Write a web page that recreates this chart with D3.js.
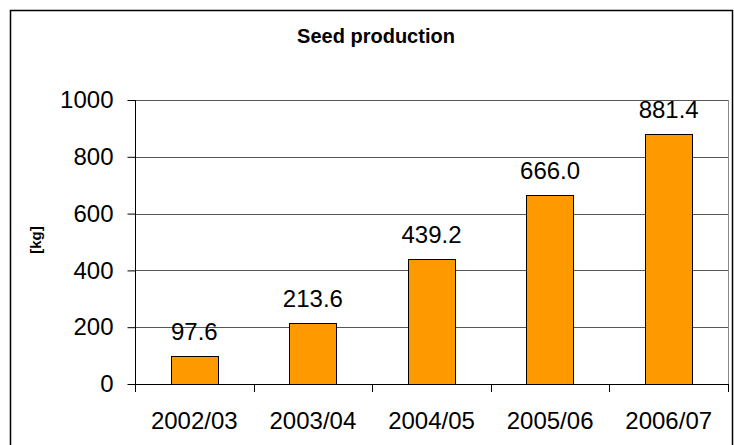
<!DOCTYPE html>
<html>
<head>
<meta charset="utf-8">
<script src="https://cdn.jsdelivr.net/npm/d3@7"></script>
<style>
    body { margin: 0; background: #fff; }
    svg { display: block; font-family: Arial, 'Liberation Sans', sans-serif; }
</style>
</head>
<body>
<div id="chart"></div>
<script>
'use strict';

// data
let seasons = ['2002/03', '2003/04', '2004/05', '2005/06', '2006/07'];
let seedKg = [97.6, 213.6, 439.2, 666.0, 881.4];
let yTicks = [0, 200, 400, 600, 800, 1000];

let width = 734;
let height = 445;
let plot = {left: 135, right: 728, top: 100, bottom: 384};

let svg = d3.select('#chart').append('svg')
    .attr('width', width)
    .attr('height', height);

// outer frame of the chart object
svg.append('rect')
    .attr('x', 10.5)
    .attr('y', 10.5)
    .attr('width', 722)
    .attr('height', 500)
    .attr('fill', 'none')
    .attr('stroke', '#000')
    .attr('stroke-width', 1.5);

svg.append('text')
    .attr('x', 376)
    .attr('y', 43)
    .attr('text-anchor', 'middle')
    .attr('font-size', '20px')
    .attr('font-weight', 'bold')
    .text('Seed production');

let x = d3.scaleBand()
    .domain(seasons)
    .range([plot.left, plot.right])
    .paddingInner(0.6)
    .paddingOuter(0.3);

let y = d3.scaleLinear()
    .domain([0, 1000])
    .range([plot.bottom, plot.top]);

// gridlines
svg.append('g')
    .selectAll('line')
    .data(yTicks.filter(function (d) { return d > 0; }))
    .join('line')
    .attr('x1', plot.left)
    .attr('x2', plot.right)
    .attr('y1', function (d) { return Math.round(y(d)) + 0.5; })
    .attr('y2', function (d) { return Math.round(y(d)) + 0.5; })
    .attr('stroke', '#555')
    .attr('stroke-width', 1.2);

// right edge of plot area
svg.append('line')
    .attr('x1', plot.right + 0.5)
    .attr('x2', plot.right + 0.5)
    .attr('y1', plot.top)
    .attr('y2', plot.bottom)
    .attr('stroke', '#888')
    .attr('stroke-width', 1);

// bars
svg.append('g')
    .selectAll('rect')
    .data(seedKg)
    .join('rect')
    .attr('x', function (d, i) { return Math.round(x(seasons[i])) + 0.5; })
    .attr('y', function (d) { return Math.round(y(d)) + 0.5; })
    .attr('width', Math.round(x.bandwidth()))
    .attr('height', function (d) { return Math.round(y(0)) - Math.round(y(d)); })
    .attr('fill', '#FF9900')
    .attr('stroke', '#000')
    .attr('stroke-width', 1);

// data labels
svg.append('g')
    .selectAll('text')
    .data(seedKg)
    .join('text')
    .attr('x', function (d, i) { return x(seasons[i]) + x.bandwidth() / 2; })
    .attr('y', function (d) { return y(d) - 16; })
    .attr('text-anchor', 'middle')
    .attr('font-size', '24px')
    .attr('fill', '#000')
    .text(function (d) { return d.toFixed(1); });

// y axis
let yAxis = svg.append('g')
    .attr('transform', 'translate(' + (plot.left + 0.5) + ',0)')
    .call(d3.axisLeft(y).tickValues(yTicks).tickFormat(d3.format('d')).tickSize(8).tickPadding(14));
yAxis.select('.domain')
    .attr('d', 'M0,' + plot.top + 'V' + (plot.bottom + 8));
yAxis.selectAll('.tick line').attr('stroke', '#000');
yAxis.selectAll('text')
    .attr('font-size', '24px')
    .attr('font-family', null)
    .attr('fill', '#000');

// x axis line and category boundary ticks
let step = x.step();
let x0 = plot.left;
svg.append('line')
    .attr('x1', plot.left)
    .attr('x2', plot.right + 1)
    .attr('y1', plot.bottom + 0.5)
    .attr('y2', plot.bottom + 0.5)
    .attr('stroke', '#000');

svg.append('g')
    .selectAll('line')
    .data(d3.range(seasons.length + 1))
    .join('line')
    .attr('x1', function (i) { return Math.round(x0 + i * step) + 0.5; })
    .attr('x2', function (i) { return Math.round(x0 + i * step) + 0.5; })
    .attr('y1', plot.bottom)
    .attr('y2', plot.bottom + 8)
    .attr('stroke', '#000');

let xAxis = svg.append('g')
    .attr('transform', 'translate(0,' + plot.bottom + ')')
    .call(d3.axisBottom(x).tickSize(0).tickPadding(28));
xAxis.select('.domain').remove();
xAxis.selectAll('text')
    .attr('font-size', '24px')
    .attr('font-family', null)
    .attr('fill', '#000');

// y axis title
svg.append('text')
    .attr('transform', 'translate(41,240)rotate(-90)')
    .attr('text-anchor', 'middle')
    .attr('font-size', '15px')
    .attr('font-weight', 'bold')
    .text('[kg]');
</script>
</body>
</html>
